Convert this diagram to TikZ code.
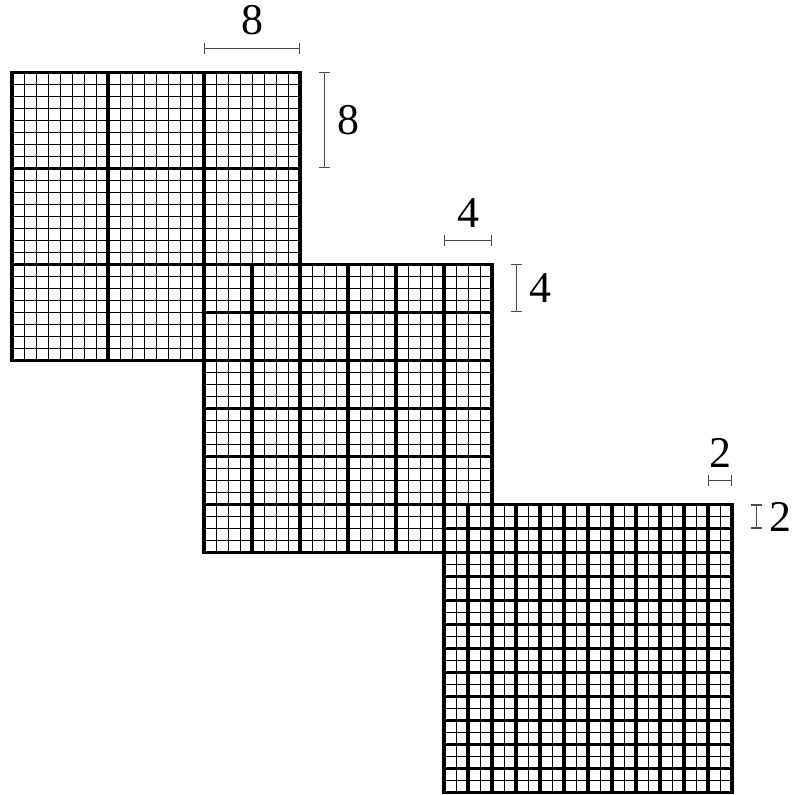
\documentclass[tikz,border=0pt]{standalone}
\usepackage{fontspec}
\setmainfont{Liberation Serif}
\usetikzlibrary{arrows.meta}

\tikzset{
    fineline/.style={line width=0.5pt},
    boldline/.style={line width=2pt},
    dimline/.style={black!70, line width=0.6pt, {Bar[width=6.5pt]}-{Bar[width=6.5pt]}},
    dimlabel/.style={text=black, inner sep=7.5pt, font=\fontsize{26}{30}\selectfont}
}

\begin{document}
\begin{tikzpicture}[x=0.25cm,y=0.25cm]
    \useasboundingbox (-1,6.04) rectangle (65.83,-60.125);

    % three grids, block size 8, 4, 2
    \foreach \o/\b in {0/8,16/4,36/2} {
        \begin{scope}[shift={(\o,-\o)}]
            \draw[fineline, step=1] (0,0) grid (24,-24);
            \draw[boldline, step=\b] (0,0) grid (24,-24);
            \draw[boldline] (0,0) rectangle (24,-24);
        \end{scope}
    }

    % block size markers
    \coordinate (h8a) at (16,2);
    \coordinate (h8b) at (24,2);
    \coordinate (v8a) at (26,0);
    \coordinate (v8b) at (26,-8);
    \draw[dimline] (h8a) -- node[above, dimlabel] (l8h) {8} (h8b);
    \draw[dimline] (v8a) -- node[right, dimlabel] (l8v) {8} (v8b);

    \coordinate (h4a) at (36,-14);
    \coordinate (h4b) at (40,-14);
    \coordinate (v4a) at (42,-16);
    \coordinate (v4b) at (42,-20);
    \draw[dimline] (h4a) -- node[above, dimlabel] (l4h) {4} (h4b);
    \draw[dimline] (v4a) -- node[right, dimlabel] (l4v) {4} (v4b);

    \coordinate (h2a) at (58,-34);
    \coordinate (h2b) at (60,-34);
    \coordinate (v2a) at (62,-36);
    \coordinate (v2b) at (62,-38);
    \draw[dimline] (h2a) -- node[above, dimlabel] (l2h) {2} (h2b);
    \draw[dimline] (v2a) -- node[right, dimlabel] (l2v) {2} (v2b);
\end{tikzpicture}
\end{document}
